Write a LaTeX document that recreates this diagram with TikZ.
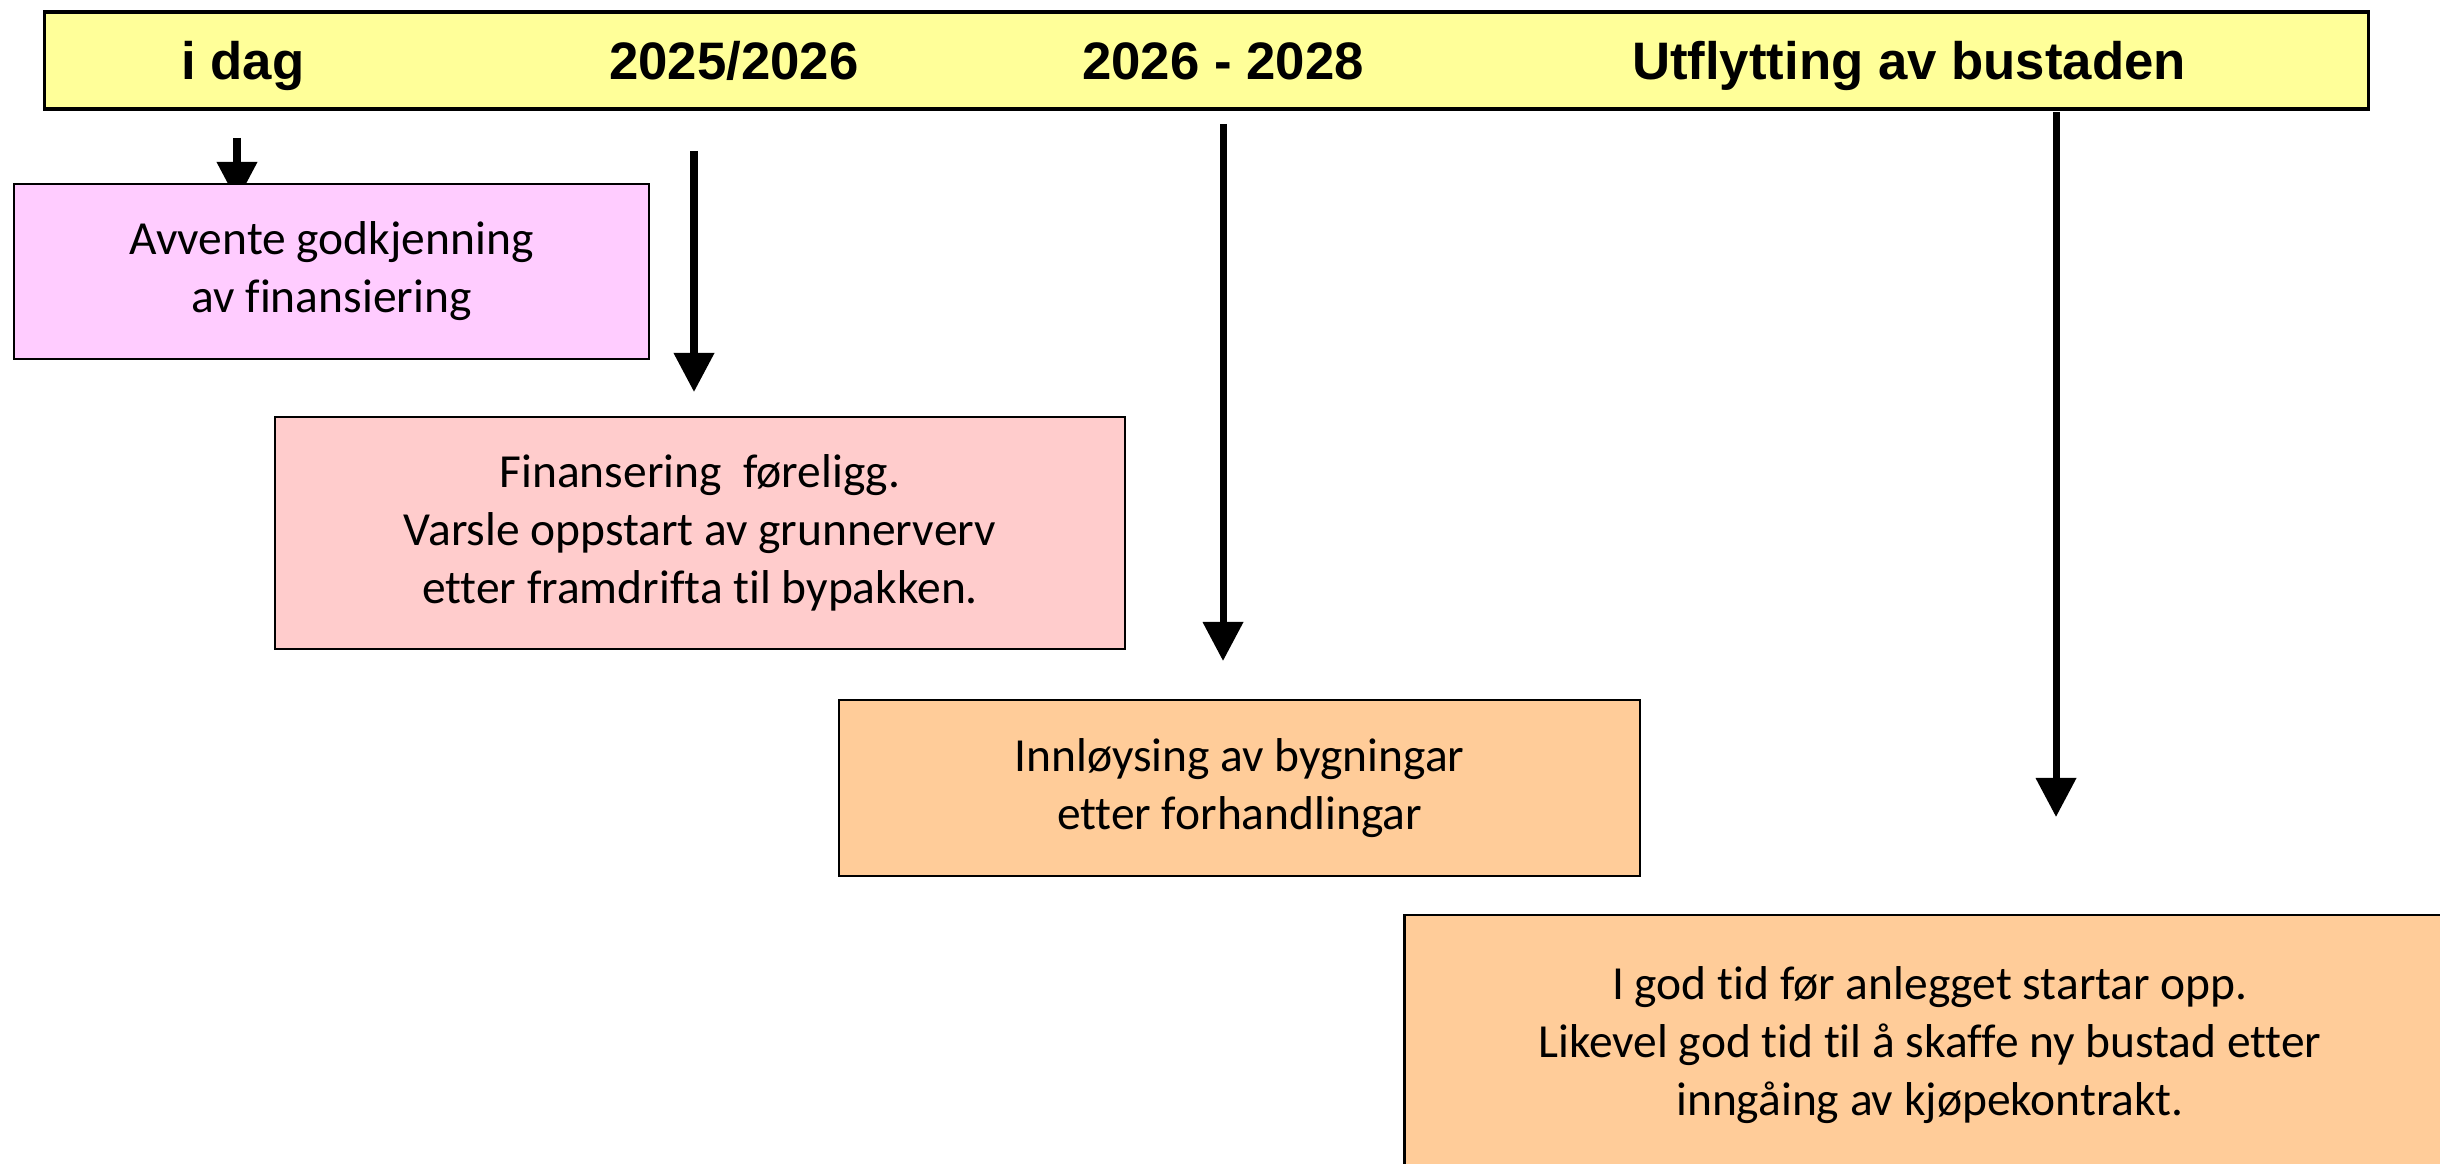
\documentclass[tikz,border=0pt]{standalone}
\usepackage{fontspec}
\setmainfont{Carlito}[Ligatures=NoCommon]
\newfontfamily\barfont{Liberation Sans}
\usetikzlibrary{arrows.meta}
\definecolor{baryellow}{HTML}{FFFF99}
\definecolor{boxpink}{HTML}{FFCCFF}
\definecolor{boxrose}{HTML}{FFCCCC}
\definecolor{boxorange}{HTML}{FFCC99}
\tikzset{>={Triangle[length=3.9mm,width=3.9mm]},
  yearlabel/.style={anchor=base, font=\barfont\bfseries\fontsize{15}{18}\selectfont},
  stepbox/.style={draw=black, line width=0.7pt, align=center, inner sep=0pt,
    font=\fontsize{13.5}{16.5}\selectfont},
  arr/.style={->, line width=2pt}}

\begin{document}
\begin{tikzpicture}[x=0.01cm, y=-0.01cm]
\clip (0,0) rectangle (2440,1164);
% tidslinje
\node[draw=black, line width=1pt, fill=baryellow, minimum width=23.23cm, minimum height=0.97cm,
  inner sep=0pt] (bar) at (1206.5,60.5) {};
\node[yearlabel] (idag) at (243,80) {i dag};
\node[yearlabel] (aar1) at (734,80) {2025/2026};
\node[yearlabel] (aar2) at (1223,80) {2026 - 2028};
\node[yearlabel] (flytt) at (1909,80) {Utflytting av bustaden};
% pilar
\coordinate (p1) at (237,138);  \coordinate (q1) at (237,201);
\coordinate (p2) at (694,151);  \coordinate (q2) at (694,392);
\coordinate (p3) at (1223,124); \coordinate (q3) at (1223,661);
\coordinate (p4) at (2056,112); \coordinate (q4) at (2056,817);
\draw[arr] (p1) -- (q1);
\draw[arr] (p2) -- (q2);
\draw[arr] (p3) -- (q3);
\draw[arr] (p4) -- (q4);
% boksar
\node[stepbox, fill=boxpink, minimum width=6.35cm, minimum height=1.75cm] (vent) at (331.5,271.5)
  {Avvente godkjenning\\av finansiering};
\node[stepbox, fill=boxrose, minimum width=8.5cm, minimum height=2.32cm] (finans) at (700,533)
  {Finansering~ føreligg.\\Varsle oppstart av grunnerverv\\etter framdrifta til bypakken.};
\node[stepbox, fill=boxorange, minimum width=8.01cm, minimum height=1.76cm] (innl) at (1239.5,788)
  {Innløysing av bygningar\\etter forhandlingar};
\node[stepbox, fill=boxorange, minimum width=10.5cm, minimum height=2.6cm] (utfl) at (1930,1045)
  {I god tid før anlegget startar opp.\\Likevel god tid til å skaffe ny bustad etter\\inngåing av kjøpekontrakt.};
\end{tikzpicture}
\end{document}
